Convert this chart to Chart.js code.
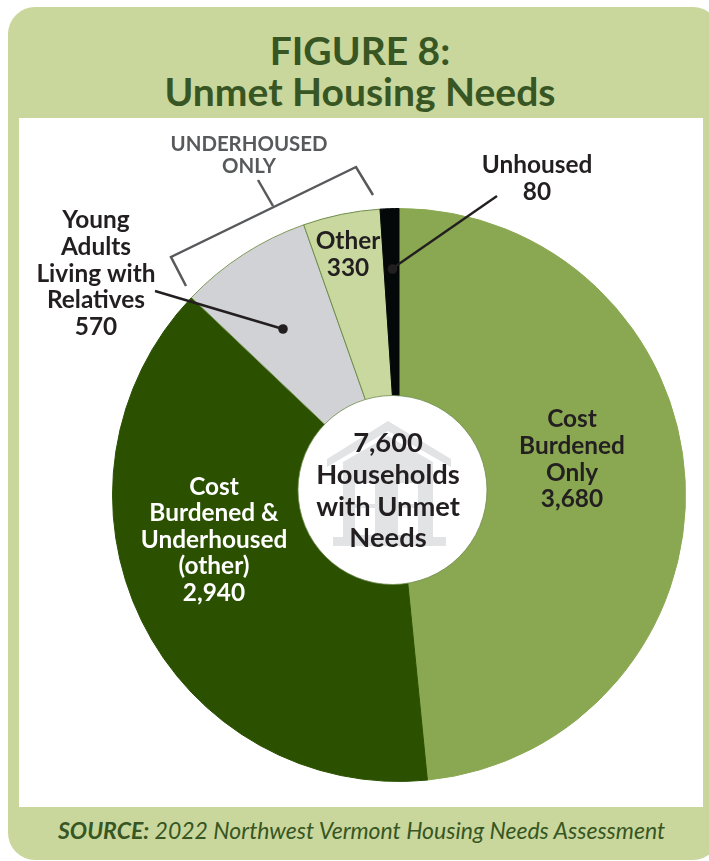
<!DOCTYPE html>
<html><head><meta charset="utf-8">
<script src="https://cdn.jsdelivr.net/npm/chart.js@4"></script>
<style>
html,body{margin:0;padding:0;background:#fff;overflow:hidden;width:709px;height:861px}
#panel{position:absolute;left:8px;top:7px;width:712px;height:853px;background:#c9d79d;border-radius:27px}
#inner{position:absolute;left:19px;top:118px;width:684px;height:689px;background:#fff}
#title{position:absolute;left:0;top:30px;width:720px;text-align:center;font:700 39px/41px Lato,sans-serif;color:#375623}
#source{position:absolute;left:58px;top:817px;white-space:nowrap;font:italic 400 23px/26px Lato,sans-serif;color:#375623}
#source b{font-weight:700}
canvas{position:absolute;left:0;top:0}
</style></head><body>
<div id="panel"></div><div id="inner"></div>
<div id="title">FIGURE 8:<br>Unmet Housing Needs</div>
<div id="source"><b>SOURCE:</b> 2022 Northwest Vermont Housing Needs Assessment</div>
<canvas id="c" width="709" height="861"></canvas>
<script>
const categories=["Cost Burdened Only","Cost Burdened & Underhoused (other)","Young Adults Living with Relatives","Other","Unhoused"];
const values=[3680,2940,570,330,80];
const sliceColors=["#8aa851","#2a5000","#d0d2d5","#c9d89e","#050808"];
const edgeColors=["#8aa851","#2a5000","#7f9a5c","#6f8c4c","#050808"];
const totalLines=["7,600","Households","with Unmet","Needs"];

const INK="#231f20", GREY="#58595b";
const labels=[
 {lines:["Cost","Burdened","Only","3,680"],x:572,y:[419,446,473,499],color:INK},
 {lines:["Cost","Burdened &","Underhoused","(other)","2,940"],x:214,y:[487,513,540,566,593],color:"#fff"},
 {lines:["Young","Adults","Living with","Relatives","570"],x:96,y:[220,247,274,300,327],color:INK},
 {lines:["Other","330"],x:348,y:[241,268],color:INK},
 {lines:["Unhoused","80"],x:537,y:[165,192],color:INK},
 {lines:["UNDERHOUSED","ONLY"],x:249,y:[144,166],color:GREY,size:20.4},
 {lines:totalLines,x:388,y:[443,475,507,538],color:INK,size:27.3}
];
function poly(ctx,pts){ctx.beginPath();pts.forEach((p,i)=>i?ctx.lineTo(p[0],p[1]):ctx.moveTo(p[0],p[1]));}
const decor={id:"decor",afterDraw(chart){
 const ctx=chart.ctx;ctx.save();
 // centre disc
 ctx.beginPath();ctx.arc(392.5,490,94.5,0,Math.PI*2);ctx.fillStyle="#fff";ctx.fill();
 ctx.strokeStyle="#6f8c4c";ctx.lineWidth=0.8;ctx.stroke();
 // house watermark
 const H="#e2e3e5";ctx.fillStyle=H;
 poly(ctx,[[388,421],[451,459],[451,467],[388,431],[327,467],[327,459]]);ctx.closePath();ctx.fill();
 poly(ctx,[[388,436],[433,462],[433,537],[343,537],[343,462]]);ctx.closePath();ctx.fill();
 ctx.fillRect(333,537,113,9);
 ctx.fillStyle="#fff";
 ctx.fillRect(355,483,20,52);ctx.fillRect(398,483,20,52);
 ctx.fillStyle=H;ctx.fillRect(355,504,20,4);ctx.fillRect(398,504,20,4);
 // bracket
 ctx.lineJoin="miter";ctx.strokeStyle=GREY;ctx.lineWidth=2.5;
 poly(ctx,[[186,286],[171,257],[356,167],[373,195]]);ctx.stroke();
 poly(ctx,[[258,180],[273,206]]);ctx.stroke();
 // leaders
 ctx.strokeStyle=INK;ctx.fillStyle=INK;ctx.lineWidth=2.4;
 poly(ctx,[[155,291],[283,329]]);ctx.stroke();
 ctx.beginPath();ctx.arc(283,329,4.8,0,Math.PI*2);ctx.fill();
 poly(ctx,[[393,268],[497,196]]);ctx.stroke();
 ctx.beginPath();ctx.arc(392.5,269,4.8,0,Math.PI*2);ctx.fill();
 // text
 ctx.textAlign="center";ctx.textBaseline="middle";
 labels.forEach(l=>{ctx.font="700 "+(l.size||24.4)+"px Lato, sans-serif";ctx.fillStyle=l.color;
  l.lines.forEach((t,i)=>ctx.fillText(t,l.x,l.y[i]));});
 ctx.restore();
}};
new Chart(document.getElementById("c"),{
 type:"pie",
 data:{labels:categories,datasets:[{data:values,backgroundColor:sliceColors,borderColor:edgeColors,borderWidth:1}]},
 options:{responsive:false,animation:false,
  layout:{padding:{left:112,right:23,top:208,bottom:79}},
  plugins:{legend:{display:false},tooltip:{enabled:false}}},
 plugins:[decor]
});
</script>
</body></html>
